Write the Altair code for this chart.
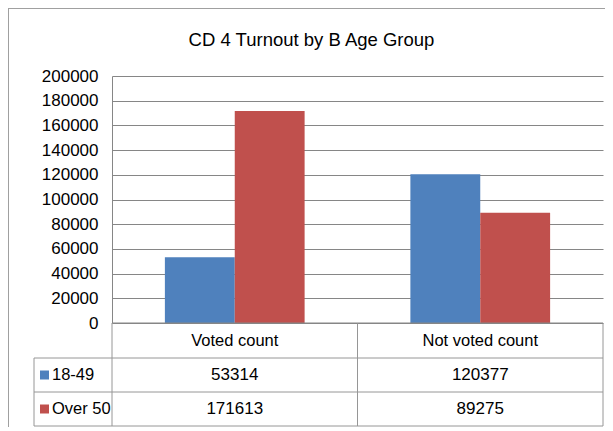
import altair as alt
import pandas as pd

categories = ["Voted count", "Not voted count"]
series = ["18-49", "Over 50"]
values_18_49 = [53314, 120377]
values_over_50 = [171613, 89275]
colors = ["#4F81BD", "#C0504D"]
title_text = "CD 4 Turnout by B Age Group"
y_ticks = list(range(0, 200001, 20000))

rows = []
for s, vals in zip(series, [values_18_49, values_over_50]):
    for c, v in zip(categories, vals):
        rows.append({"category": c, "series": s, "value": v})
df = pd.DataFrame(rows)
cat_df = pd.DataFrame({"category": categories})
one = pd.DataFrame({"t": [title_text]})

FONT = "Liberation Sans"
W, H = 491, 247
PAD_L, PAD_T = 104, 68
ROW1, ROW2, ROW3 = H + 35, H + 69, H + 103   # bottoms of table rows
TABLE_L = -78
GRID = "#868686"
LINE = "#969696"

x_enc = alt.X("category:N", sort=categories,
              scale=alt.Scale(paddingInner=0, paddingOuter=0), axis=None)
color_enc = alt.Color("series:N", scale=alt.Scale(domain=series, range=colors), legend=None)

bars = alt.Chart(df).mark_bar().encode(
    x=x_enc,
    xOffset=alt.XOffset("series:N", sort=series,
                        scale=alt.Scale(paddingInner=0, paddingOuter=0.757)),
    y=alt.Y("value:Q", scale=alt.Scale(domain=[0, 200000]),
            axis=alt.Axis(values=y_ticks, title=None, grid=True, gridColor=GRID,
                          domainColor=GRID, ticks=False, labelPadding=14,
                          labelFont=FONT, labelFontSize=17, labelColor="#000",
                          format="d")),
    color=color_enc,
)

title = alt.Chart(one).mark_text(font=FONT, fontSize=18.5, color="#000",
                                 align="center", baseline="alphabetic").encode(
    text="t:N", x=alt.value(199.5), y=alt.value(-30))

def hrule(y, x1, x2, color=LINE):
    return alt.Chart(one).mark_rule(color=color, strokeWidth=1).encode(
        x=alt.value(x1), x2=alt.value(x2), y=alt.value(y))

def vrule(x, y1, y2, color=LINE):
    return alt.Chart(one).mark_rule(color=color, strokeWidth=1).encode(
        x=alt.value(x), y=alt.value(y1), y2=alt.value(y2))

dividers = alt.Chart(cat_df).mark_rule(color=LINE, strokeWidth=1).encode(
    x=alt.X("category:N", sort=categories, bandPosition=1,
            scale=alt.Scale(paddingInner=0, paddingOuter=0), axis=None),
    y=alt.value(H), y2=alt.value(ROW3))

header = alt.Chart(cat_df).mark_text(font=FONT, fontSize=16.5, color="#000",
                                     baseline="middle").encode(
    x=alt.X("category:N", sort=categories, bandPosition=0.5,
            scale=alt.Scale(paddingInner=0, paddingOuter=0), axis=None),
    y=alt.value((H + ROW1) / 2), text="category:N")

layers = [bars, title]
row_bounds = [(ROW1, ROW2), (ROW2, ROW3)]
for s, (r1, r2) in zip(series, row_bounds):
    cy = (r1 + r2) / 2
    sub = df[df["series"] == s]
    layers.append(alt.Chart(sub).mark_text(font=FONT, fontSize=17, color="#000",
                                           baseline="middle").encode(
        x=alt.X("category:N", sort=categories, bandPosition=0.5,
                scale=alt.Scale(paddingInner=0, paddingOuter=0), axis=None),
        y=alt.value(cy), text="value:Q"))
    lab = pd.DataFrame({"series": [s]})
    layers.append(alt.Chart(lab).mark_square(size=81, opacity=1).encode(
        x=alt.value(-67.5), y=alt.value(cy), color=color_enc))
    layers.append(alt.Chart(lab).mark_text(font=FONT, fontSize=16.5, color="#000",
                                           align="left", baseline="middle").encode(
        x=alt.value(-60), y=alt.value(cy), text="series:N"))

layers += [
    header, dividers,
    hrule(H, 0, W, GRID),
    hrule(ROW1, TABLE_L, W),
    hrule(ROW2, TABLE_L, W),
    hrule(ROW3, TABLE_L, W),
    vrule(0, H, ROW3),
    vrule(TABLE_L, ROW1, ROW3),
    vrule(-103.5, -68, ROW3 + 10, "#a0a0a0"),
    hrule(-67.5, -104, W + 2, "#a0a0a0"),
]

chart = alt.layer(*layers).properties(
    width=W, height=H,
    autosize=alt.AutoSizeParams(type="none"),
    padding={"left": PAD_L, "top": PAD_T, "right": 2, "bottom": 104},
    background="white",
).configure_view(stroke=None)

chart.save("out.html", embed_options={"renderer": "svg", "actions": False})
